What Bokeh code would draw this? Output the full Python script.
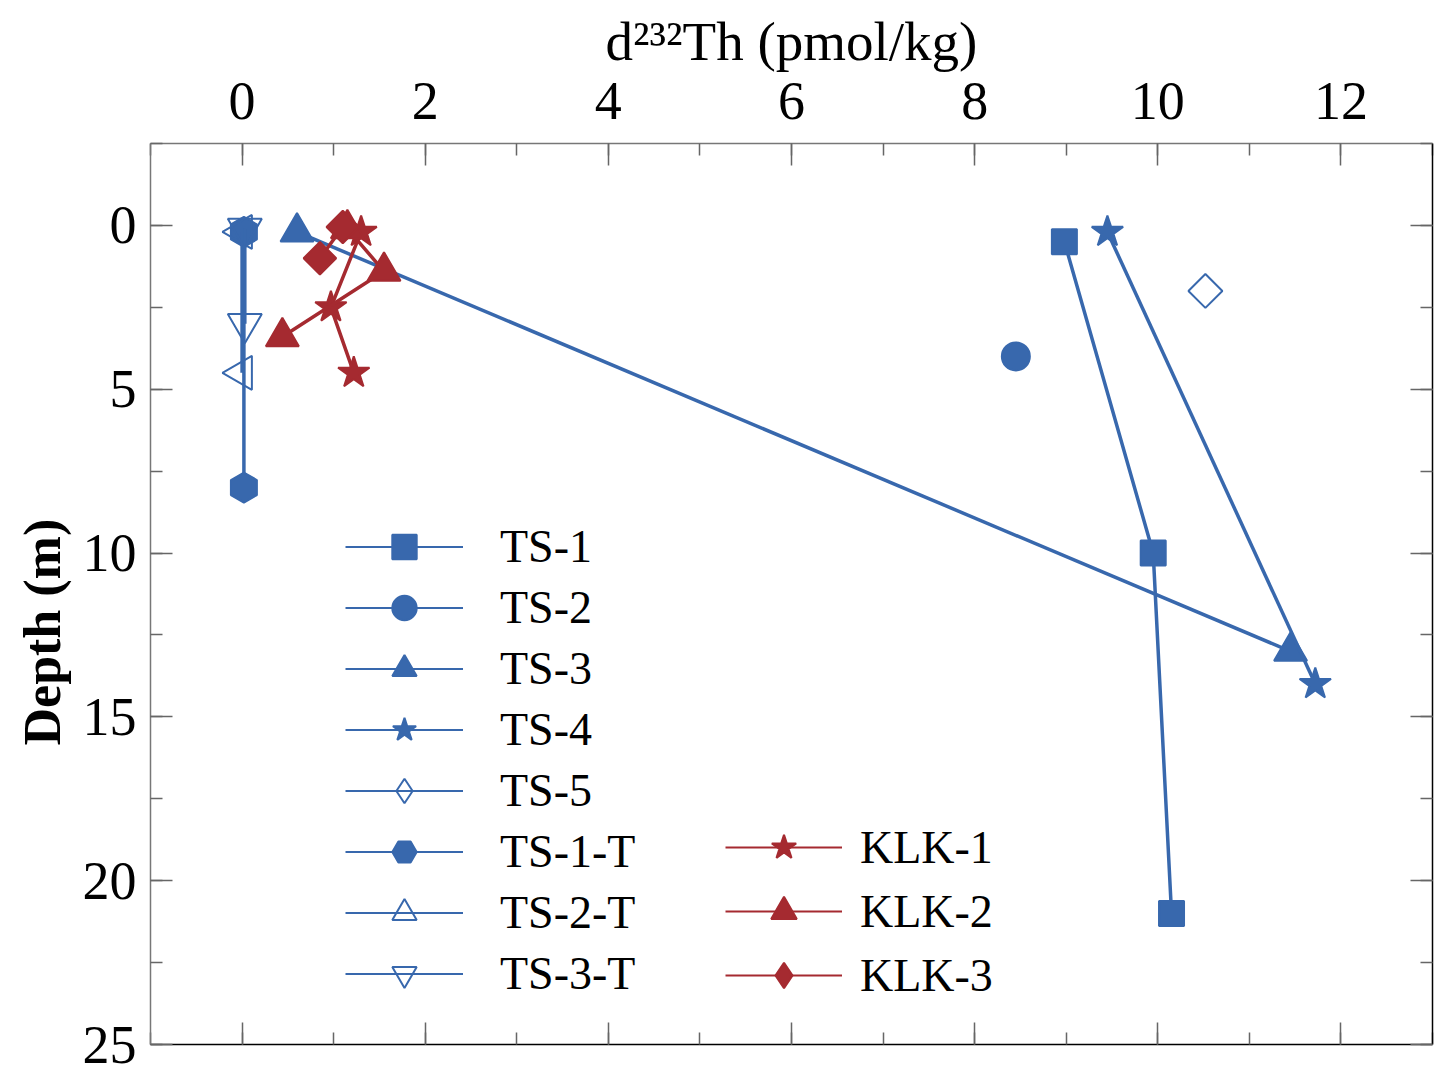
from math import pi
from bokeh.plotting import figure
from bokeh.models import Range1d, LinearAxis, SingleIntervalTicker, Legend, LegendItem, Title
from bokeh.embed import file_html
from bokeh.resources import INLINE

# depth profiles of dissolved 232Th (x in pmol/kg, y = depth in m)
ts1_x = [8.98, 9.95, 10.15]
ts1_y = [0.5, 10.0, 21.0]
ts2_x = [8.45]
ts2_y = [4.0]
ts3_x = [0.6, 11.45]
ts3_y = [0.2, 13.0]
ts4_x = [9.45, 11.72]
ts4_y = [0.2, 14.0]
ts5_x = [10.52]
ts5_y = [2.0]
ts1t_x = [0.02, 0.02]
ts1t_y = [0.2, 8.0]
ts2t_x = [0.0, 0.0]
ts2t_y = [0.2, 4.5]
ts3t_x = [0.03, 0.03]
ts3t_y = [0.1, 3.0]

klk1_x = [1.3, 0.97, 1.22]
klk1_y = [0.2, 2.5, 4.5]
klk2_x = [1.15, 1.55, 0.44]
klk2_y = [0.1, 1.4, 3.4]
klk3_x = [1.1, 0.85]
klk3_y = [0.05, 1.0]

blue = '#3868ad'
red = '#a52a30'
font = 'Liberation Serif'

p = figure(width=1453, height=1084, x_range=Range1d(-1, 13), y_range=Range1d(25, -2.5),
           x_axis_location='above', output_backend='svg', toolbar_location=None,
           min_border_left=150, min_border_top=143, min_border_right=21, min_border_bottom=40)
p.xgrid.visible = False
p.ygrid.visible = False
p.outline_line_color = None
p.background_fill_color = 'white'


def series(xs, ys, color, marker, size, fill=True, angle=0.0, legend_marker=None):
    p.line(xs, ys, line_color=color, line_width=3.5)
    p.scatter(xs, ys, marker=marker, size=size, angle=angle,
              line_color=color, line_width=2,
              fill_color=color if fill else 'white', fill_alpha=1.0 if fill else 0.0)
    # hidden copies that only feed the legend (thinner line, legend marker shape)
    ln = p.line(xs, ys, line_color=color, line_width=2, visible=False)
    sc = p.scatter(xs, ys, marker=legend_marker or marker,
                   line_color=color, line_width=2,
                   fill_color=color if fill else 'white', fill_alpha=1.0 if fill else 0.0,
                   visible=False)
    return [ln, sc]


r_ts1 = series(ts1_x, ts1_y, blue, 'square', 25)
r_ts2 = series(ts2_x, ts2_y, blue, 'circle', 28)
r_ts3 = series(ts3_x, ts3_y, blue, 'triangle', 33)
r_ts4 = series(ts4_x, ts4_y, blue, 'star', 33)
r_ts5 = series(ts5_x, ts5_y, blue, 'square', 24, fill=False, angle=pi/4, legend_marker='diamond')
r_ts1t = series(ts1t_x, ts1t_y, blue, 'hex', 30, angle=pi/6)
r_ts2t = series(ts2t_x, ts2t_y, blue, 'triangle', 34, fill=False, angle=pi/2)
r_ts3t = series(ts3t_x, ts3t_y, blue, 'inverted_triangle', 34, fill=False)

r_klk1 = series(klk1_x, klk1_y, red, 'star', 33)
r_klk2 = series(klk2_x, klk2_y, red, 'triangle', 33)
r_klk3 = series(klk3_x, klk3_y, red, 'square', 23, angle=pi/4, legend_marker='diamond')

# axes on all four sides, ticks pointing inward
p.add_layout(LinearAxis(), 'below')
p.add_layout(LinearAxis(), 'right')

for ax in p.xaxis:
    ax.ticker = SingleIntervalTicker(interval=2, num_minor_ticks=2)
for ax in p.yaxis:
    ax.ticker = SingleIntervalTicker(interval=5, num_minor_ticks=2)

for ax in p.xaxis + p.yaxis:
    ax.major_tick_in = 22
    ax.major_tick_out = 0
    ax.minor_tick_in = 12
    ax.minor_tick_out = 0
    ax.major_tick_line_color = '#666666'
    ax.minor_tick_line_color = '#666666'
    ax.major_tick_line_width = 1.5
    ax.minor_tick_line_width = 1.5
    ax.axis_line_color = '#777777'
    ax.axis_line_width = 1.5
    ax.major_label_text_font = font
    ax.major_label_text_font_size = '54px'
    ax.major_label_text_color = 'black'
    ax.axis_label_text_font = font
    ax.axis_label_text_color = 'black'

top = p.xaxis[0]
top.axis_label = 'd\u00b2\u00b3\u00b2Th (pmol/kg)'
top.axis_label_text_font_size = '55px'
top.axis_label_text_font_style = 'normal'
top.major_label_standoff = 25
top.axis_label_standoff = 8

left = p.yaxis[0]
left.major_label_standoff = 14

# y title sits a little below the middle of the frame, as in the original
ytitle = Title(text='Depth (m)', align='left', offset=299, standoff=18,
               text_font=font, text_font_size='52px', text_font_style='bold',
               text_color='black')
p.add_layout(ytitle, 'left')

for ax in [p.xaxis[1], p.yaxis[1]]:
    ax.major_label_text_font_size = '10px'
    ax.major_label_text_color = None
    ax.major_label_standoff = 0
    ax.axis_line_color = 'black'

leg1 = Legend(items=[
    LegendItem(label='TS-1', renderers=r_ts1),
    LegendItem(label='TS-2', renderers=r_ts2),
    LegendItem(label='TS-3', renderers=r_ts3),
    LegendItem(label='TS-4', renderers=r_ts4),
    LegendItem(label='TS-5', renderers=r_ts5),
    LegendItem(label='TS-1-T', renderers=r_ts1t),
    LegendItem(label='TS-2-T', renderers=r_ts2t),
    LegendItem(label='TS-3-T', renderers=r_ts3t),
], location=(195, 40), glyph_width=118, glyph_height=61, label_height=61, spacing=0,
    label_standoff=37, padding=0, margin=0)

leg2 = Legend(items=[
    LegendItem(label='KLK-1', renderers=r_klk1),
    LegendItem(label='KLK-2', renderers=r_klk2),
    LegendItem(label='KLK-3', renderers=r_klk3),
], location=(575, 37), glyph_width=117, glyph_height=64, label_height=64, spacing=0,
    label_standoff=18, padding=0, margin=0)

for leg in [leg1, leg2]:
    leg.border_line_color = None
    leg.background_fill_alpha = 0
    leg.label_text_font = font
    leg.label_text_font_size = '46px'
    leg.label_text_color = 'black'
    p.add_layout(leg, 'center')

open('out.html', 'w').write(file_html(p, INLINE))
